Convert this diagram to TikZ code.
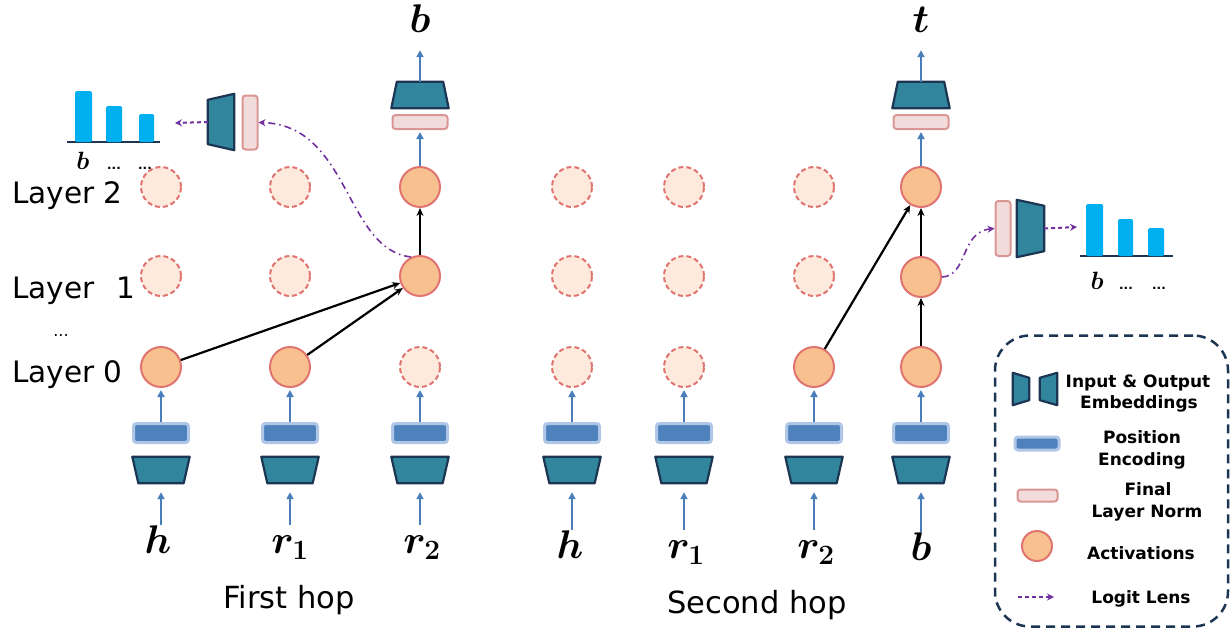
\RequirePackage{fix-cm}
\documentclass[tikz,border=0pt]{standalone}
\usepackage{amsmath,bm}
\usepackage[no-math]{fontspec}
\newfontfamily\dejavu{DejaVu Sans}
\usetikzlibrary{arrows.meta,calc}

\definecolor{actfill}{HTML}{F8C08F}
\definecolor{actline}{HTML}{E07470}
\definecolor{ghostfill}{HTML}{FDEADC}
\definecolor{embfill}{HTML}{31859C}
\definecolor{navy}{HTML}{1C3553}
\definecolor{pefill}{HTML}{4F81BD}
\definecolor{peglow}{HTML}{AFC6E6}
\definecolor{lnfill}{HTML}{F2DCDB}
\definecolor{lnline}{HTML}{DA9694}
\definecolor{blarrow}{HTML}{4A7EBB}
\definecolor{lens}{HTML}{7030A0}
\definecolor{barc}{HTML}{00B0F0}

\newcommand{\inemb}[2]{%
  \node[embbox] (#1) at (#2) {};
  \draw[emb] (#1.north west) -- (#1.north east) -- ([xshift=-6pt]#1.south east) -- ([xshift=6pt]#1.south west) -- cycle;}
\newcommand{\outemb}[2]{%
  \node[embbox] (#1) at (#2) {};
  \draw[emb] ([xshift=5.5pt]#1.north west) -- ([xshift=-5.5pt]#1.north east) -- (#1.south east) -- (#1.south west) -- cycle;}

\begin{document}
\begin{tikzpicture}[x=1pt,y=-1pt,
  act/.style={circle, minimum size=40pt, inner sep=0pt, fill=actfill, draw=actline, line width=2pt},
  ghost/.style={circle, minimum size=40pt, inner sep=0pt, fill=ghostfill, draw=actline, line width=2pt, dash pattern=on 5pt off 3pt},
  pe/.style={rectangle, rounded corners=3pt, minimum width=55pt, minimum height=19pt, inner sep=0pt, fill=pefill, draw=peglow, line width=3pt},
  ln/.style={rectangle, rounded corners=3pt, minimum width=55pt, minimum height=14pt, inner sep=0pt, fill=lnfill, draw=lnline, line width=2pt},
  embbox/.style={rectangle, inner sep=0pt, minimum width=57pt, minimum height=26pt},
  emb/.style={fill=embfill, draw=navy, line width=2.2pt, line join=round},
  bluearrow/.style={draw=blarrow, line width=2pt, -{Triangle[length=7pt,width=7pt]}},
  link/.style={draw=black, line width=2.2pt, -{Stealth[length=8pt,width=7pt]}},
  lensarrow/.style={draw=lens, line width=2pt, dash pattern=on 4pt off 3pt, -{Stealth[length=7pt,width=7pt]}},
  lenscurve/.style={draw=lens, line width=1.6pt, dash pattern=on 7pt off 4pt on 1.5pt off 4pt, -{Stealth[length=7pt,width=7pt]}},
  tok/.style={inner sep=0pt, anchor=base, font=\fontsize{40}{46}\selectfont, text height=28pt, text depth=8pt},
  layerlabel/.style={inner sep=0pt, anchor=base west, font=\dejavu\fontsize{29.5}{36}\selectfont},
  hop/.style={inner sep=0pt, anchor=base, font=\dejavu\fontsize{30.5}{36}\selectfont},
  leg/.style={inner sep=0pt, anchor=base, font=\dejavu\bfseries\fontsize{17}{20}\selectfont},
  small/.style={inner sep=0pt, anchor=base, font=\fontsize{25}{28}\selectfont},
  dotlbl/.style={inner sep=0pt, anchor=base, font=\dejavu\bfseries\fontsize{12}{14}\selectfont},
  bar/.style={fill=barc, rounded corners=1.5pt}
]
\useasboundingbox (0,0) rectangle (1232,629);

% ---------- layer labels ----------
\node[layerlabel] (L2) at (12,203) {Layer 2};
\node[layerlabel] (L1) at (12,298) {Layer\hspace{22pt}1};
\node[inner sep=0pt, anchor=base, font=\dejavu\fontsize{16}{20}\selectfont] (Ldots) at (61,336) {...};
\node[layerlabel] (L0) at (12,382) {Layer 0};

% ---------- first hop ----------
\node[tok] (th1) at (158,553) {$\bm{h}$};
\inemb{eh1}{161,470}
\node[pe] (ph1) at (161,433) {};
\node[act] (h1l0) at (161,367) {};
\node[ghost] (h1l1) at (161,276) {};
\node[ghost] (h1l2) at (161,187) {};

\node[tok] (tr11) at (290,553) {$\bm{r_1}$};
\inemb{er11}{290,470}
\node[pe] (pr11) at (290,433) {};
\node[act] (r11l0) at (290,367) {};
\node[ghost] (r11l1) at (290,276) {};
\node[ghost] (r11l2) at (290,187) {};

\node[tok] (tr21) at (422,553) {$\bm{r_2}$};
\inemb{er21}{420,470}
\node[pe] (pr21) at (420,433) {};
\node[ghost] (r21l0) at (420,367) {};
\node[act] (r21l1) at (420,276) {};
\node[act] (r21l2) at (420,187) {};
\node[ln] (n1) at (420,122) {};
\outemb{o1}{420,95}
\node[tok] (out1) at (420,32) {$\bm{b}$};

% ---------- second hop ----------
\node[tok] (th2) at (570,558) {$\bm{h}$};
\inemb{eh2}{572,470}
\node[pe] (ph2) at (572,433) {};
\node[ghost] (h2l0) at (572,367) {};
\node[ghost] (h2l1) at (572,276) {};
\node[ghost] (h2l2) at (572,187) {};

\node[tok] (tr12) at (686,558) {$\bm{r_1}$};
\inemb{er12}{684,470}
\node[pe] (pr12) at (684,433) {};
\node[ghost] (r12l0) at (684,367) {};
\node[ghost] (r12l1) at (684,276) {};
\node[ghost] (r12l2) at (684,187) {};

\node[tok] (tr22) at (816,558) {$\bm{r_2}$};
\inemb{er22}{814,470}
\node[pe] (pr22) at (814,433) {};
\node[act] (r22l0) at (814,367) {};
\node[ghost] (r22l1) at (814,276) {};
\node[ghost] (r22l2) at (814,187) {};

\node[tok] (tb2) at (921,560) {$\bm{b}$};
\inemb{eb2}{921,470}
\node[pe] (pb2) at (921,433) {};
\node[act] (b2l0) at (921,367) {};
\node[act] (b2l1) at (921,277) {};
\node[act] (b2l2) at (921,187) {};
\node[ln] (n2) at (921,122) {};
\outemb{o2}{921,95}
\node[tok] (out2) at (921,32) {$\bm{t}$};

% ---------- blue arrows ----------
\foreach \t/\e/\p/\c in {th1/eh1/ph1/h1l0, tr11/er11/pr11/r11l0, tr21/er21/pr21/r21l0,
                         th2/eh2/ph2/h2l0, tr12/er12/pr12/r12l0, tr22/er22/pr22/r22l0, tb2/eb2/pb2/b2l0}{
  \draw[bluearrow, shorten >=9pt] (\t.north -| \e.south) -- (\e.south);
  \draw[bluearrow, shorten >=2pt] (\p) -- (\c);
}
\draw[bluearrow, shorten >=2pt] (r21l2) -- (n1);
\draw[bluearrow, shorten >=10pt] (o1.north) -- (out1.south);
\draw[bluearrow, shorten >=2pt] (b2l2) -- (n2);
\draw[bluearrow, shorten >=10pt] (o2.north) -- (out2.south);

% ---------- black connectors ----------
\draw[link] (h1l0) -- (r21l1);
\draw[link] (r11l0) -- (r21l1);
\draw[link] (r21l1) -- (r21l2);
\draw[link] (r22l0) -- (b2l2);
\draw[link] (b2l0) -- (b2l1);
\draw[link] (b2l1) -- (b2l2);

% ---------- left logit lens ----------
\node[ln, minimum width=15pt, minimum height=54pt] (lnL) at (250,122.5) {};
\node[embbox, minimum width=26pt, minimum height=56pt] (eL) at (221,122) {};
\draw[emb] ([yshift=-6pt]eL.north west) -- (eL.north east) -- (eL.south east) -- ([yshift=6pt]eL.south west) -- cycle;
\coordinate (chartL) at (175,123);
\draw[lensarrow] (eL.west) -- (chartL);
\draw[lenscurve] (r21l1.115) .. controls (345,250) and (350,125) .. (lnL.east);
\draw[navy, line width=1.5pt] (67,142) -- (160,142);
\fill[bar] (75,142) rectangle (92,91);
\fill[bar] (106,142) rectangle (122,106);
\fill[bar] (139,142) rectangle (154,114);
\node[small] (cbL) at (83,169) {$\bm{b}$};
\node[dotlbl] (cd1L) at (114,169) {...};
\node[dotlbl] (cd2L) at (145,169) {...};

% ---------- right logit lens ----------
\node[ln, minimum width=15pt, minimum height=55pt] (lnR) at (1003,228.5) {};
\node[embbox, minimum width=27pt, minimum height=57pt] (eR) at (1030.5,228.5) {};
\draw[emb] (eR.north west) -- ([yshift=-6pt]eR.north east) -- ([yshift=6pt]eR.south east) -- (eR.south west) -- cycle;
\coordinate (chartR) at (1077,227);
\draw[lensarrow] (eR.east) -- (chartR);
\draw[lenscurve] (b2l1.east) .. controls (968,276) and (960,232) .. (lnR.west);
\draw[navy, line width=1.5pt] (1080,256) -- (1173,256);
\fill[bar] (1086,256) rectangle (1103,204);
\fill[bar] (1118,256) rectangle (1133,219);
\fill[bar] (1148,256) rectangle (1164,228);
\node[small] (cbR) at (1097,289) {$\bm{b}$};
\node[dotlbl] (cd1R) at (1126,289) {...};
\node[dotlbl] (cd2R) at (1159,289) {...};

% ---------- hop labels ----------
\node[hop] (hop1) at (289,608) {First hop};
\node[hop] (hop2) at (757,613) {Second hop};

% ---------- legend ----------
\node[draw=navy, line width=2.5pt, dash pattern=on 9pt off 6pt, rounded corners=35pt,
      minimum width=233pt, minimum height=291pt, inner sep=0pt] (legend) at (1111.5,481) {};
\node[embbox, minimum width=16pt, minimum height=32pt] (lgE1) at (1021,389) {};
\draw[emb] (lgE1.north west) -- ([yshift=-5pt]lgE1.north east) -- ([yshift=5pt]lgE1.south east) -- (lgE1.south west) -- cycle;
\node[embbox, minimum width=17pt, minimum height=32pt] (lgE2) at (1048.5,389) {};
\draw[emb] ([yshift=-5pt]lgE2.north west) -- (lgE2.north east) -- (lgE2.south east) -- ([yshift=5pt]lgE2.south west) -- cycle;
\node[pe, minimum width=44pt, minimum height=13pt] (lgP) at (1037,443.5) {};
\node[ln, minimum width=40pt, minimum height=12pt] (lgN) at (1037.5,495.5) {};
\node[act, minimum size=30pt] (lgA) at (1037,546) {};
\coordinate (lgL1) at (1018,597);
\coordinate (lgL2) at (1054,597);
\draw[lensarrow] (lgL1) -- (lgL2);

\node[leg] (lt1a) at (1138,387) {Input \& Output};
\node[leg] (lt1b) at (1139,408) {Embeddings};
\node[leg] (lt2a) at (1142,443) {Position};
\node[leg] (lt2b) at (1142,465) {Encoding};
\node[leg] (lt3a) at (1148,495) {Final};
\node[leg] (lt3b) at (1147,517) {Layer Norm};
\node[leg] (lt4) at (1141,559) {Activations};
\node[leg] (lt5) at (1141,603) {Logit Lens};
\end{tikzpicture}
\end{document}
